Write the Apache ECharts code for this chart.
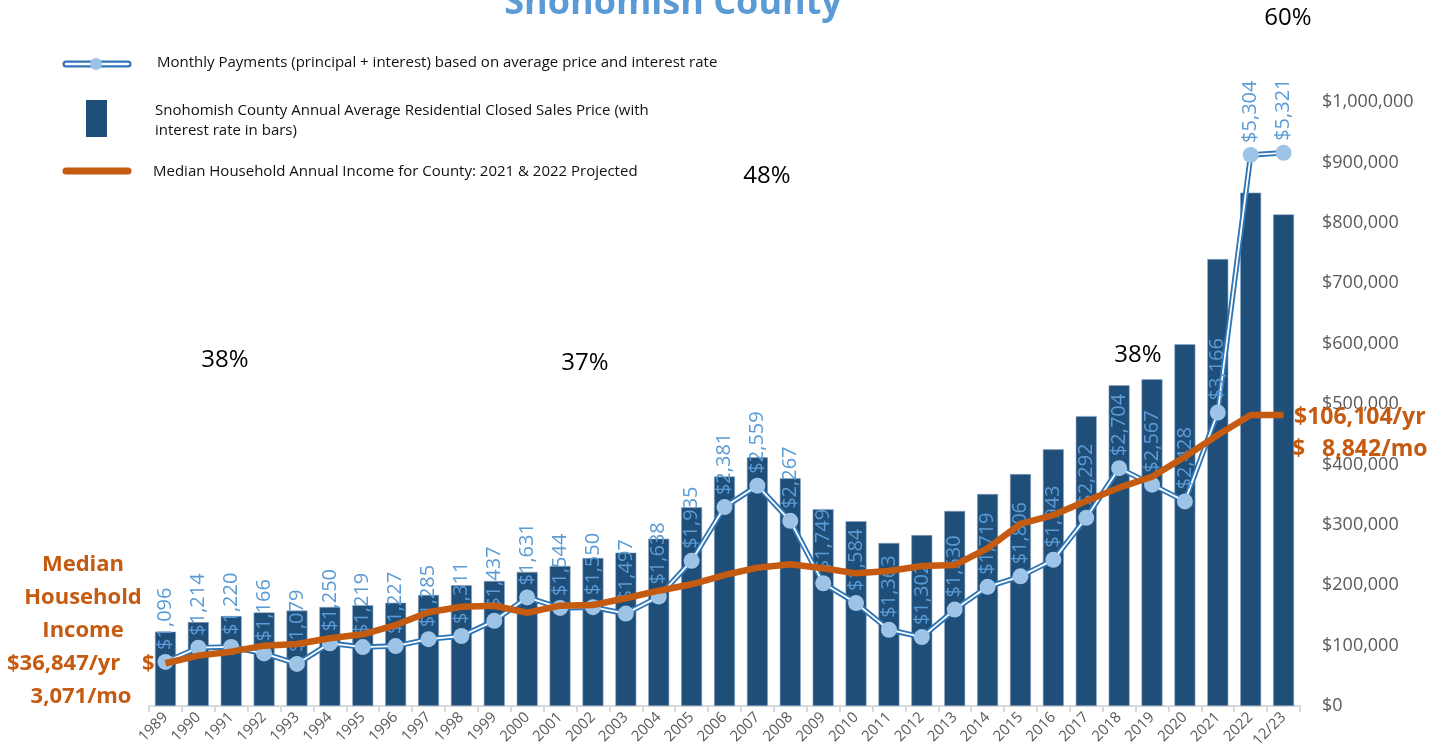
<!DOCTYPE html>
<html>
<head>
<meta charset="utf-8">
<script src="https://cdn.jsdelivr.net/npm/echarts@6/dist/echarts.min.js"></script>
<style>
  html, body { margin: 0; padding: 0; background: #fff; }
  #chart { width: 1446px; height: 755px; }
</style>
</head>
<body>
<div id="chart"></div>
<script>
const categories = [
  "1989", "1990", "1991", "1992", "1993", "1994", "1995", "1996", "1997", "1998",
  "1999", "2000", "2001", "2002", "2003", "2004", "2005", "2006", "2007", "2008",
  "2009", "2010", "2011", "2012", "2013", "2014", "2015", "2016", "2017", "2018",
  "2019", "2020", "2021", "2022", "12/23"
];

// average closed sales price (bars, scale shown on right)
const avgPrice = [
  123000, 139000, 149000, 155000, 158000, 164000, 167000, 171000, 184000, 200000,
  207000, 222000, 232000, 245000, 254000, 277000, 329000, 380000, 412000, 377000,
  326000, 306000, 270000, 283000, 323000, 351000, 384000, 425000, 480000, 531000,
  541000, 599000, 740000, 850000, 814000
];

// monthly payment (principal + interest)
const monthlyPayment = [
  1096, 1214, 1220, 1166, 1079, 1250, 1219, 1227, 1285, 1311,
  1437, 1631, 1544, 1550, 1497, 1638, 1935, 2381, 2559, 2267,
  1749, 1584, 1363, 1302, 1530, 1719, 1806, 1943, 2292, 2704,
  2567, 2428, 3166, 5304, 5321
];

// median household income line, as plotted on the payment scale
const incomeLine = [
  1085, 1148, 1181, 1231, 1245, 1292, 1325, 1402, 1508, 1554,
  1562, 1504, 1563, 1568, 1624, 1687, 1740, 1817, 1878, 1906,
  1873, 1831, 1851, 1892, 1900, 2039, 2241, 2315, 2432, 2542,
  2633, 2799, 2979, 3145, 3145
];

const percentNotes = [
  { text: "60%", x: 1288, y: 18 },
  { text: "48%", x: 767, y: 176 },
  { text: "38%", x: 225, y: 360 },
  { text: "37%", x: 585, y: 363 },
  { text: "38%", x: 1138, y: 355 }
];

const FONT = "'Open Sans', 'Noto Sans', sans-serif";
const ORANGE = "#C55A11";

const chart = echarts.init(document.getElementById("chart"));

const txt = (text, x, y, font, fill, align) => ({
  type: "text",
  x: x,
  y: y,
  silent: true,
  z: 100,
  style: {
    text: text,
    font: font,
    fill: fill,
    align: align || "left",
    textAlign: align || "left",
    verticalAlign: "middle",
    textVerticalAlign: "middle"
  }
});

const graphics = [
  txt("Snohomish County", 673, 4, "bold 36px " + FONT, "#5B9BD5", "center"),

  // legend
  { type: "line", silent: true, shape: { x1: 66, y1: 64, x2: 128, y2: 64 },
    style: { stroke: "#2E75B6", lineWidth: 7, lineCap: "round" } },
  { type: "line", silent: true, shape: { x1: 66, y1: 64, x2: 128, y2: 64 },
    style: { stroke: "#fff", lineWidth: 2.5, lineCap: "round" } },
  { type: "circle", silent: true, shape: { cx: 96, cy: 64, r: 6 },
    style: { fill: "#9DC3E6" } },
  txt("Monthly Payments (principal + interest) based on average price and interest rate",
    157, 63, "15px " + FONT, "#111"),

  { type: "rect", silent: true, shape: { x: 86, y: 100, width: 21, height: 37 },
    style: { fill: "#1F4E79" } },
  txt("Snohomish County Annual Average Residential Closed Sales Price (with", 155, 111, "15px " + FONT, "#111"),
  txt("interest rate in bars)", 155, 131, "15px " + FONT, "#111"),

  { type: "line", silent: true, shape: { x1: 66, y1: 171, x2: 128, y2: 171 },
    style: { stroke: ORANGE, lineWidth: 7, lineCap: "round" } },
  txt("Median Household Annual Income for County: 2021 & 2022 Projected",
    153, 172, "15px " + FONT, "#111"),

  // left income note
  txt("Median", 83, 565, "bold 22px " + FONT, ORANGE, "center"),
  txt("Household", 83, 598, "bold 22px " + FONT, ORANGE, "center"),
  txt("Income", 83, 631, "bold 22px " + FONT, ORANGE, "center"),
  txt("$36,847/yr", 7, 664, "bold 22px " + FONT, ORANGE, "left"),
  txt("$", 142, 664, "bold 22px " + FONT, ORANGE, "left"),
  txt("3,071/mo", 81, 697, "bold 22px " + FONT, ORANGE, "center"),

  // right income note
  txt("$106,104/yr", 1294, 417, "bold 23px " + FONT, ORANGE, "left"),
  txt("$", 1292, 449, "bold 23px " + FONT, ORANGE, "left"),
  txt("8,842/mo", 1322, 449, "bold 23px " + FONT, ORANGE, "left")
];

percentNotes.forEach((p) => {
  graphics.push(txt(p.text, p.x, p.y, "24px " + FONT, "#000", "center"));
});

chart.setOption({
  animation: false,
  backgroundColor: "#fff",
  textStyle: { fontFamily: FONT },
  grid: { left: 149, right: 146, top: 102, bottom: 49 },
  xAxis: {
    type: "category",
    data: categories,
    axisLine: { lineStyle: { color: "#D9D9D9", width: 2 } },
    axisTick: { show: true, length: 6, lineStyle: { color: "#D9D9D9", width: 2 } },
    axisLabel: { interval: 0, rotate: 45, color: "#595959", fontSize: 15, margin: 9 }
  },
  yAxis: [
    {
      type: "value",
      position: "right",
      min: 0,
      max: 1000000,
      interval: 100000,
      axisLine: { show: false },
      axisTick: { show: false },
      splitLine: { show: false },
      axisLabel: {
        color: "#595959",
        fontSize: 18,
        margin: 22,
        formatter: (v) => "$" + v.toLocaleString("en-US")
      }
    },
    {
      type: "value",
      min: 730,
      max: 5743,
      show: false,
      splitLine: { show: false }
    }
  ],
  series: [
    {
      name: "Average Price",
      type: "bar",
      data: avgPrice,
      barWidth: 21,
      itemStyle: { color: "#1F4E79", borderColor: "#8EA9C8", borderWidth: 0.6 },
      z: 1
    },
    {
      name: "Payment outer",
      type: "line",
      yAxisIndex: 1,
      data: monthlyPayment,
      symbol: "none",
      lineStyle: { color: "#2E75B6", width: 5.5 },
      z: 2
    },
    {
      name: "Payment inner",
      type: "line",
      yAxisIndex: 1,
      data: monthlyPayment,
      symbol: "none",
      lineStyle: { color: "#fff", width: 1.8 },
      z: 3
    },
    {
      name: "Monthly Payment",
      type: "line",
      yAxisIndex: 1,
      data: monthlyPayment,
      symbol: "circle",
      symbolSize: 16,
      itemStyle: { color: "#9DC3E6" },
      lineStyle: { width: 0, opacity: 0 },
      label: {
        show: true,
        position: "top",
        rotate: 90,
        align: "left",
        verticalAlign: "middle",
        distance: 4,
        color: "#5B9BD5",
        fontSize: 20,
        formatter: (p) => "$" + p.value.toLocaleString("en-US")
      },
      z: 4
    },
    {
      name: "Median Income",
      type: "line",
      yAxisIndex: 1,
      data: incomeLine,
      symbol: "none",
      lineStyle: { color: ORANGE, width: 6.5 },
      z: 5
    }
  ],
  graphic: graphics
});
</script>
</body>
</html>
